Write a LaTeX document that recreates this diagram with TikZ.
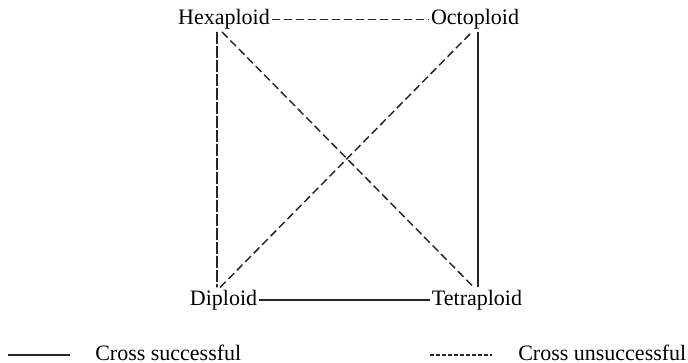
\documentclass[tikz,border=0pt]{standalone}
\usepackage{fontspec}
\setmainfont{Liberation Serif}
\begin{document}
\begin{tikzpicture}[x=0.75pt,y=-0.75pt,
  lbl/.style={inner sep=1.5pt,font=\fontsize{16.5}{20}\selectfont,anchor=base},
  ok/.style={line width=1.3pt,black!85},
  nok/.style={line width=1.1pt,black!85,dash pattern=on 6pt off 3pt},
  nokdense/.style={line width=1.2pt,black!85,dash pattern=on 9pt off 1.5pt},
  legok/.style={line width=2pt,black!85},
  legnok/.style={line width=1pt,black!85,dash pattern=on 3pt off 1.5pt}]
\useasboundingbox (0,0) rectangle (688,363);
\node[lbl] (hex) at (224,25) {Hexaploid};
\node[lbl] (oct) at (475,25) {Octoploid};
\node[lbl] (dip) at (223.5,305) {Diploid};
\node[lbl] (tet) at (477,305) {Tetraploid};
% edges
\draw[nok] (hex.east) -- (oct.west);
\draw[ok] (dip.east) -- (tet.west);
\draw[nokdense] ([xshift=-5.25pt]hex.south) -- ([xshift=-4.9pt]dip.north);
\draw[ok] ([xshift=2.25pt]oct.south) -- ([xshift=0.75pt]tet.north);
\draw[nok] ([xshift=-1.5pt]hex.south) -- ([xshift=-2.25pt]tet.north);
\draw[nok] ([xshift=-2.6pt]dip.north) -- ([xshift=-2.25pt]oct.south);
% legend
\coordinate (s1) at (8,355);
\coordinate (s2) at (70,355);
\coordinate (u1) at (430,355);
\coordinate (u2) at (492,355);
\draw[legok] (s1) -- (s2);
\draw[legnok] (u1) -- (u2);
\node[lbl,anchor=base west,inner sep=0pt] (lsucc) at (95,360) {Cross successful};
\node[lbl,anchor=base west,inner sep=0pt] (lunsucc) at (518,360) {Cross unsuccessful};
\end{tikzpicture}
\end{document}
